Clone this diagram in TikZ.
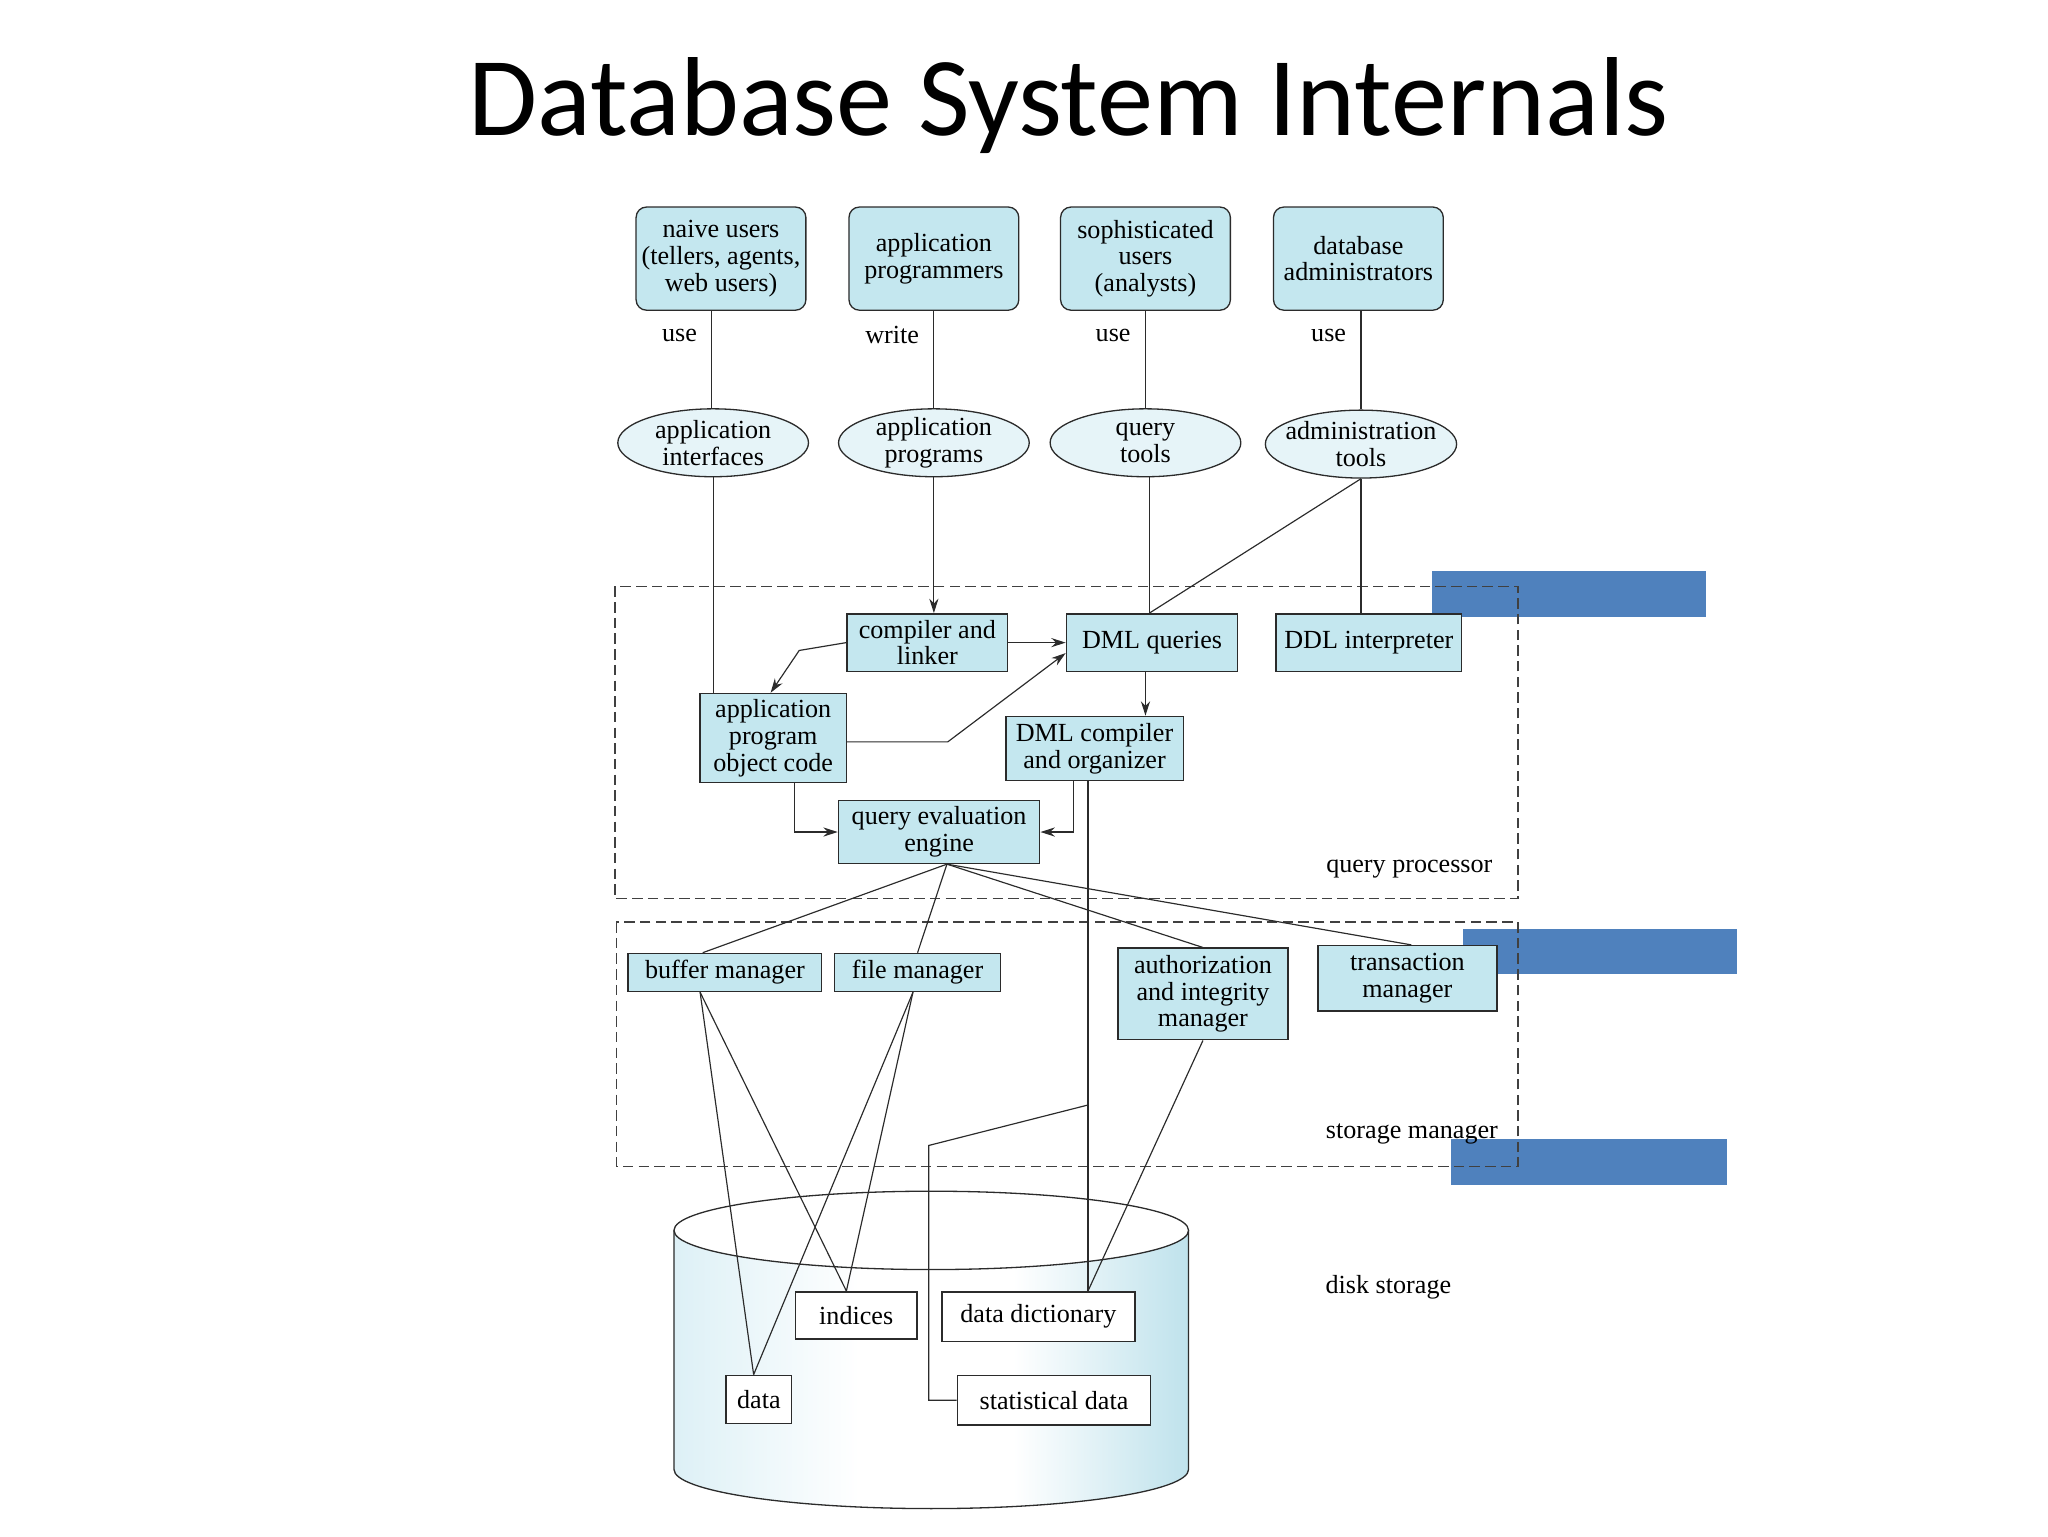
\documentclass[tikz,border=0pt]{standalone}
\usepackage{fontspec}
\setmainfont{Liberation Serif}
\newfontfamily\titlefont{Carlito}
\usetikzlibrary{shapes.geometric,arrows.meta}

\definecolor{boxblue}{HTML}{C4E7EF}
\definecolor{ellblue}{HTML}{E6F4F8}
\definecolor{slideblue}{HTML}{4F81BD}
\definecolor{edgegray}{HTML}{2B2B2B}
\definecolor{cylleft}{HTML}{DDF0F6}
\definecolor{cylright}{HTML}{BFE2EC}
\pgfdeclarehorizontalshading{cylshade}{100bp}{color(0bp)=(cylleft); color(25bp)=(cylleft); color(43bp)=(white); color(58bp)=(white); color(75bp)=(cylright); color(100bp)=(cylright)}

\begin{document}
\begin{tikzpicture}[x=1pt,y=-1pt,
    font=\fontsize{20}{20.5}\selectfont,
    >={Stealth[length=11pt,width=7pt]},
    link/.style={draw=edgegray,line width=0.9pt},
    userbox/.style={draw=edgegray,line width=1pt,fill=boxblue,rounded corners=8pt,align=center,inner sep=0pt,minimum width=130pt,minimum height=79pt},
    toolshape/.style={ellipse,draw=edgegray,line width=1pt,fill=ellblue,align=center,inner xsep=-6pt,inner ysep=-2pt,minimum width=146pt,minimum height=52pt},
    procbox/.style={draw=edgegray,line width=1.2pt,fill=boxblue,align=center,inner sep=0pt},
    diskbox/.style={draw=edgegray,line width=1.2pt,fill=white,align=center,inner sep=0pt},
    groupframe/.style={draw=edgegray!90,line width=1.2pt,dash pattern=on 8pt off 4pt},
    grouplabel/.style={anchor=base,inner sep=0pt}]
    \pgfmathsetmacro{\cylrx}{197}
    \pgfmathsetmacro{\cylry}{30}
    \useasboundingbox (0,0) rectangle (1568,1176);
    % slide blocks behind the figure
    \fill[slideblue] (1096,437) rectangle (1306,472);
    \fill[slideblue] (1120,711) rectangle (1330,746);
    \fill[slideblue] (1111,872) rectangle (1322,907);
    \node[font=\titlefont\fontsize{86}{90}\selectfont,anchor=base] (title) at (818,104) {Database System Internals};
    % disk
    \shade[shading=cylshade] (516,942) -- (516,1125) arc[start angle=180,end angle=0,x radius=\cylrx,y radius=\cylry] -- (910,942) arc[start angle=0,end angle=180,x radius=\cylrx,y radius=\cylry] -- cycle;
    \draw[edgegray,line width=1pt] (516,942) -- (516,1125) arc[start angle=180,end angle=0,x radius=\cylrx,y radius=\cylry] -- (910,942);
    \draw[edgegray,line width=1pt] (713,942) ellipse[x radius=\cylrx,y radius=\cylry];
    \draw[groupframe] (471,449) rectangle (1162,688);
    \draw[groupframe] (472,706) rectangle (1162,893);
    \node[grouplabel] (qplbl) at (1079,668) {query processor};
    \node[grouplabel] (smlbl) at (1081,872) {storage manager};
    \node[grouplabel] (dslbl) at (1063,990) {disk storage};
    % users
    \node[userbox] (naive) at (552,198) {naive users\\(tellers, agents,\\web users)};
    \node[userbox] (appprog) at (715,198) {application\\programmers};
    \node[userbox] (soph) at (877,198) {sophisticated\\users\\(analysts)};
    \node[userbox] (dba) at (1040,198) {database\\administrators};
    % tools
    \node[toolshape] (apint) at (546,339) {application\\interfaces};
    \node[toolshape] (approgs) at (715,339) {application\\programs};
    \node[toolshape] (qtools) at (877,339) {query\\tools};
    \node[toolshape] (admtools) at (1042,340) {administration\\tools};
    % query processor
    \node[procbox,minimum width=123pt,minimum height=44pt] (cl) at (710,492) {compiler and\\linker};
    \node[procbox,minimum width=131pt,minimum height=44pt] (dmlq) at (882,492) {DML queries};
    \node[procbox,minimum width=142pt,minimum height=44pt] (ddl) at (1048,492) {DDL interpreter};
    \node[procbox,minimum width=112pt,minimum height=68pt] (apobj) at (592,565) {application\\program\\object code};
    \node[procbox,minimum width=136pt,minimum height=49pt] (dmlc) at (838,573) {DML compiler\\and organizer};
    \node[procbox,minimum width=154pt,minimum height=48pt] (qeval) at (719,637) {query evaluation\\engine};
    % storage manager
    \node[procbox,minimum width=148pt,minimum height=29pt] (bufm) at (555,744.5) {buffer manager};
    \node[procbox,minimum width=127pt,minimum height=29pt] (filem) at (702.5,744.5) {file manager};
    \node[procbox,minimum width=130pt,minimum height=70pt] (authm) at (921,761) {authorization\\and integrity\\manager};
    \node[procbox,minimum width=137pt,minimum height=50pt] (txm) at (1077.5,749) {transaction\\manager};
    % disk contents
    \node[diskbox,minimum width=93pt,minimum height=36pt] (idx) at (655.5,1007) {indices};
    \node[diskbox,minimum width=148pt,minimum height=38pt] (dict) at (795,1008) {data dictionary};
    \node[diskbox,minimum width=50pt,minimum height=37pt] (dat) at (581,1071.5) {data};
    \node[diskbox,minimum width=148pt,minimum height=38pt] (stat) at (807,1072) {statistical data};

    \draw[link] ([xshift=-7pt]naive.south) -- node[pos=0.25,left=11pt,inner sep=0pt] (uselbla) {use} ([xshift=-7pt]naive.south |- apint.north);
    \draw[link] (appprog) -- node[pos=0.25,left=11pt,inner sep=0pt] (writelbl) {write} (approgs);
    \draw[link] (soph) -- node[pos=0.25,left=11pt,inner sep=0pt] (uselblb) {use} (qtools);
    \draw[link] ([xshift=2pt]dba.south) -- node[pos=0.25,left=11pt,inner sep=0pt] (uselblc) {use} (admtools.north);
    \draw[link] (apint.south) -- (apint.south |- apobj.north);
    \draw[link,->] (approgs.south) -- (approgs.south |- cl.north);
    \draw[link] ([xshift=3pt]qtools.south) -- ([xshift=3pt]qtools.south |- dmlq.north);
    \draw[link] (admtools.south) -- ([xshift=-2pt]dmlq.north);
    \draw[link] (admtools.south) -- (admtools.south |- ddl.north);
    \draw[link,->] (cl.east) -- (dmlq.west);
    \draw[link,->] (cl.west) -- ++(-36,6) -- ([xshift=-2pt]apobj.north);
    \draw[link,->] ([yshift=-3pt]apobj.east) -- ++(77,0) -- ([yshift=-8pt]dmlq.west);
    \draw[link,->] ([xshift=-5pt]dmlq.south) -- ([xshift=-5pt]dmlq.south |- dmlc.north);
    \draw[link,->] ([xshift=16pt]apobj.south) |- (qeval.west);
    \draw[link,->] ([xshift=-16pt]dmlc.south) |- (qeval.east);
    \draw[link] ([xshift=-5pt]dmlc.south) -- ([xshift=38pt]dict.north);
    \draw[link] ([xshift=-5pt]dmlc.south |- 0,846) -- ++(-122,31) |- (stat.west);
    \draw[link] ([xshift=6pt]qeval.south) -- ([xshift=-17pt]bufm.north);
    \draw[link] ([xshift=6pt]qeval.south) -- (filem.north);
    \draw[link] ([xshift=6pt]qeval.south) -- (authm.north);
    \draw[link] ([xshift=6pt]qeval.south) -- ([xshift=3pt]txm.north);
    \draw[link] ([xshift=-19pt]bufm.south) -- ([xshift=-4pt]dat.north);
    \draw[link] ([xshift=-19pt]bufm.south) -- ([xshift=-7.5pt]idx.north);
    \draw[link] ([xshift=-3.5pt]filem.south) -- ([xshift=-4pt]dat.north);
    \draw[link] ([xshift=-3.5pt]filem.south) -- ([xshift=-7.5pt]idx.north);
    \draw[link] (authm.south) -- ([xshift=38pt]dict.north);
\end{tikzpicture}
\end{document}
